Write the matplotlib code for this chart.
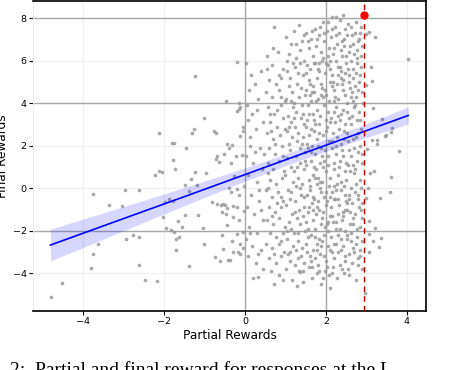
import matplotlib.pyplot as plt

# points left of x = 0 (sparse part)
left_pts = [(-3.75, -0.27), (-3.36, -0.77), (-3.03, -0.85), (-2.97, -0.09), (-2.62, -0.08),
            (-2.12, 2.6), (-2.22, 0.6), (-2.12, 0.8), (-2.05, 0.77), (-1.81, 2.14), (-1.75, 2.14),
            (-1.77, 1.33), (-1.73, 0.89), (-1.87, -0.52), (-1.98, -0.67), (-1.77, -0.6),
            (-1.46, 1.91), (-1.3, 2.61), (-1.26, 2.8), (-1.01, 3.3), (-1.47, 0.17), (-1.38, -0.14),
            (-1.34, 0.44), (-1.23, 0.78), (-1.18, 0.14), (-0.95, 0.7), (-0.76, 2.71), (-0.72, 2.61),
            (-0.72, 1.36), (-0.64, 1.22), (-0.68, 1.52), (-0.51, 1.63), (-0.43, 2.1), (-0.39, 1.91),
            (-0.35, 1.2), (-0.32, 2.03), (-0.28, 0.56), (-0.23, 1.5), (-0.2, -0.02), (-0.19, 3.62),
            (-0.14, 3.74), (-0.12, 3.8), (-0.11, 2.44), (-0.07, 1.58), (-0.04, 2.68), (-0.14, 3.99),
            (-0.19, 5.92), (-1.23, 5.29), (-0.47, 4.12),
            (-0.8, -0.65), (-0.7, -0.75), (-0.6, -0.8), (-0.5, -0.8), (-0.45, -0.95), (-0.3, -0.85),
            (-0.2, -0.9), (-0.4, 0.0), (-0.35, -0.2), (-0.15, -0.3),
            (-2.02, -1.35), (-1.95, -1.86), (-1.83, -1.94), (-1.75, -2.08), (-1.65, -1.52),
            (-1.55, -1.83), (-1.47, -1.24), (-1.63, -2.28), (-1.69, -2.39), (-1.69, -2.91),
            (-1.39, -3.66), (-1.16, -1.28), (-1.04, -1.85), (-1.01, -2.6), (-0.55, -0.72),
            (-0.56, -1.13), (-0.46, -1.2), (-0.29, -1.33), (-0.14, -1.5), (-0.02, -1.06),
            (-0.44, -1.71), (-0.57, -2.22), (-0.19, -2.16), (-0.04, -2.08), (-0.31, -2.5),
            (-0.12, -2.64), (-0.04, -2.8), (-0.17, -2.99), (-0.11, -3.07), (-0.29, -3.02),
            (-0.55, -2.85), (-0.75, -3.24), (-0.62, -3.4), (-0.41, -3.38), (-0.37, -3.38),
            (-2.93, -2.39), (-2.75, -2.22), (-2.61, -2.3), (-3.62, -2.63), (-3.75, -3.11),
            (-3.79, -3.76), (-2.61, -3.63), (-2.47, -4.29), (-2.17, -4.37), (-4.51, -4.47),
            (-4.78, -5.13)]

# main cloud between x = 0 and the dashed line
cloud_pts = [
    (0.02, 5.9), (0.1, 4.6), (0.25, 4.9), (0.4, 5.5), (0.05, 3.9), (0.18, 3.5), (0.33, 4.2),
    (0.45, 3.1), (-0.05, 2.9), (0.12, 2.4), (0.28, 2.8), (0.38, 1.9), (0.03, 1.5), (0.2, 1.2),
    (0.47, 1.6), (0.08, 0.6), (0.3, 0.3), (0.42, 0.9), (-0.02, 0.1), (0.15, -0.3), (0.35, -0.6),
    (0.05, -0.9), (0.22, -1.2), (0.44, -1.5), (0.1, -1.8), (0.3, -2.1), (0.02, -2.4), (0.18, -2.7),
    (0.4, -2.9), (0.08, -3.2), (0.27, -3.5), (0.45, -3.8), (0.2, -4.2), (0.35, -0.1), (0.13, 2.0),
    (0.33, -4.16),
    (0.73, 7.56), (0.55, 6.2), (0.68, 5.8), (0.82, 6.4), (0.95, 5.6), (0.6, 5.1), (0.77, 4.9),
    (0.9, 5.2), (0.52, 4.5), (0.66, 4.3), (0.85, 4.6), (0.98, 4.1), (0.58, 3.8), (0.72, 3.5),
    (0.88, 3.9), (0.62, 3.1), (0.79, 2.9), (0.93, 3.3), (0.54, 2.6), (0.7, 2.3), (0.86, 2.5),
    (0.99, 2.8), (0.6, 1.9), (0.75, 1.6), (0.91, 2.0), (0.56, 1.2), (0.69, 0.9), (0.84, 1.3),
    (0.97, 0.8), (0.63, 0.4), (0.78, 0.2), (0.92, 0.5), (0.53, -0.1), (0.67, -0.4), (0.81, -0.2),
    (0.95, -0.6), (0.59, -0.9), (0.74, -1.1), (0.89, -0.9), (0.55, -1.5), (0.7, -1.7),
    (0.84, -1.4), (0.98, -1.8), (0.62, -2.1), (0.77, -2.3), (0.93, -2.1), (0.52, -2.6),
    (0.68, -2.8), (0.83, -2.6), (0.97, -3.0), (0.6, -3.3), (0.76, -3.5), (0.9, -3.2),
    (0.65, -3.9), (0.85, -4.1), (0.72, -4.5), (0.57, 0.7), (0.88, -0.4), (0.64, 2.7),
    (0.8, 3.7), (0.94, 1.5),
    (1.02, 7.1), (1.08, 6.3), (1.04, 5.5), (1.09, 4.8), (1.01, 4.2), (1.06, 3.4), (1.03, 2.7),
    (1.1, 2.1), (1.05, 1.4), (1.0, 0.6), (1.07, -0.1), (1.02, -0.8), (1.09, -1.6), (1.04, -2.4),
    (1.06, -3.1), (1.01, -3.8),
    (1.14, 6.8), (1.18, 5.9), (1.12, 5.2), (1.16, 4.5), (1.19, 3.8), (1.13, 3.1), (1.17, 2.4),
    (1.11, 1.8), (1.15, 1.0), (1.19, 0.3), (1.12, -0.5), (1.16, -1.2), (1.14, -1.9),
    (1.18, -2.7), (1.11, -3.4), (1.17, -4.3),
    (1.22, 7.4), (1.27, 6.1), (1.24, 5.7), (1.29, 4.9), (1.21, 4.0), (1.26, 3.6), (1.23, 2.9),
    (1.28, 2.2), (1.25, 1.5), (1.21, 0.8), (1.27, 0.1), (1.24, -0.6), (1.29, -1.4),
    (1.22, -2.1), (1.26, -2.9), (1.23, -3.6), (1.28, -4.6),
    (1.33, 7.68), (1.36, 6.5), (1.31, 5.4), (1.38, 4.7), (1.34, 4.3), (1.39, 3.3), (1.32, 2.6),
    (1.37, 1.9), (1.35, 1.2), (1.3, 0.5), (1.38, -0.3), (1.33, -1.0), (1.36, -1.7),
    (1.31, -2.5), (1.39, -3.2), (1.34, -3.9), (1.36, -3.93),
    (1.42, 6.9), (1.47, 6.0), (1.44, 5.3), (1.49, 4.4), (1.41, 3.9), (1.46, 3.0), (1.43, 2.4),
    (1.48, 1.7), (1.45, 0.9), (1.41, 0.2), (1.47, -0.4), (1.44, -1.3), (1.49, -2.0),
    (1.42, -2.8), (1.46, -3.5), (1.43, -4.4),
    (1.52, 7.3), (1.57, 6.6), (1.54, 5.8), (1.59, 5.1), (1.51, 4.6), (1.56, 3.9), (1.53, 3.2),
    (1.58, 2.5), (1.55, 1.9), (1.5, 1.1), (1.57, 0.4), (1.53, -0.3), (1.59, -0.9),
    (1.52, -1.6), (1.56, -2.3), (1.54, -3.0), (1.58, -3.7), (1.51, 2.9), (1.55, -1.1),
    (1.63, 7.0), (1.67, 6.2), (1.61, 5.6), (1.68, 4.8), (1.64, 4.1), (1.69, 3.5), (1.62, 2.8),
    (1.66, 2.0), (1.63, 1.3), (1.69, 0.6), (1.61, -0.1), (1.65, -0.7), (1.68, -1.5),
    (1.62, -2.2), (1.67, -2.9), (1.64, -3.4), (1.66, -4.2), (1.6, 4.4), (1.69, -0.4),
    (1.72, 7.5), (1.76, 6.7), (1.73, 5.9), (1.78, 5.2), (1.71, 4.5), (1.77, 3.7), (1.74, 3.0),
    (1.79, 2.3), (1.72, 1.6), (1.75, 0.9), (1.78, 0.2), (1.71, -0.5), (1.76, -1.2),
    (1.73, -1.9), (1.79, -2.6), (1.74, -3.3), (1.77, -4.0), (1.7, 2.7), (1.78, -0.9),
    (1.82, 7.2), (1.87, 6.4), (1.84, 5.5), (1.89, 4.9), (1.81, 4.2), (1.86, 3.4), (1.83, 2.6),
    (1.88, 1.9), (1.85, 1.2), (1.8, 0.5), (1.87, -0.2), (1.82, -1.0), (1.88, -1.7),
    (1.84, -2.4), (1.86, -3.1), (1.81, -3.6), (1.89, -4.5), (1.83, 5.9), (1.85, 0.0),
    (1.92, 7.8), (1.96, 6.9), (1.93, 6.1), (1.98, 5.4), (1.91, 4.7), (1.95, 3.9), (1.99, 3.2),
    (1.92, 2.5), (1.97, 1.8), (1.94, 1.0), (1.9, 0.3), (1.96, -0.4), (1.93, -1.1),
    (1.98, -1.8), (1.91, -2.5), (1.95, -3.2), (1.97, -3.9), (1.94, 4.3), (1.99, -0.8),
    (2.02, 7.4), (2.07, 6.6), (2.04, 5.8), (2.09, 5.0), (2.01, 4.4), (2.06, 3.6), (2.03, 2.9),
    (2.08, 2.2), (2.05, 1.5), (2.0, 0.8), (2.07, 0.1), (2.03, -0.6), (2.09, -1.3),
    (2.04, -2.0), (2.06, -2.7), (2.01, -3.4), (2.08, -4.1), (2.05, 6.2), (2.02, -1.7),
    (2.16, 8.04), (2.13, 7.1), (2.18, 6.3), (2.11, 5.6), (2.15, 4.8), (2.19, 4.1), (2.12, 3.3),
    (2.17, 2.6), (2.14, 1.9), (2.19, 1.2), (2.11, 0.5), (2.16, -0.2), (2.13, -0.9),
    (2.18, -1.6), (2.12, -2.3), (2.15, -3.0), (2.17, -3.7), (2.1, -4.7), (2.14, 5.3),
    (2.19, -0.5),
    (2.26, 8.07), (2.22, 7.6), (2.27, 6.8), (2.24, 6.0), (2.29, 5.3), (2.21, 4.6), (2.26, 3.8),
    (2.23, 3.1), (2.28, 2.4), (2.25, 1.6), (2.2, 0.9), (2.27, 0.2), (2.22, -0.5), (2.29, -1.2),
    (2.24, -1.9), (2.26, -2.6), (2.21, -3.3), (2.28, -4.2), (2.23, 4.3), (2.25, -0.1),
    (2.32, 7.3), (2.37, 6.5), (2.34, 5.7), (2.39, 4.9), (2.31, 4.2), (2.36, 3.5), (2.33, 2.8),
    (2.38, 2.1), (2.35, 1.3), (2.3, 0.6), (2.37, -0.1), (2.33, -0.8), (2.39, -1.5),
    (2.31, -2.2), (2.36, -2.9), (2.34, -3.6), (2.38, 5.2), (2.32, 1.0), (2.35, -1.9),
    (2.43, 8.14), (2.47, 7.5), (2.44, 6.7), (2.49, 5.9), (2.41, 5.1), (2.46, 4.4), (2.43, 3.7),
    (2.48, 3.0), (2.45, 2.3), (2.41, 1.5), (2.47, 0.8), (2.44, 0.1), (2.49, -0.6),
    (2.42, -1.3), (2.46, -2.0), (2.43, -2.7), (2.48, -3.4), (2.45, -4.0), (2.4, 6.2),
    (2.47, -1.0),
    (2.52, 7.2), (2.57, 6.4), (2.54, 5.6), (2.59, 4.7), (2.51, 4.0), (2.56, 3.3), (2.53, 2.6),
    (2.58, 1.8), (2.55, 1.1), (2.5, 0.4), (2.57, -0.3), (2.53, -1.0), (2.59, -1.7),
    (2.52, -2.4), (2.56, -3.1), (2.54, -3.8), (2.58, 5.3), (2.51, -0.7),
    (2.63, 7.6), (2.67, 6.8), (2.61, 6.0), (2.68, 5.2), (2.64, 4.5), (2.69, 3.8), (2.62, 3.0),
    (2.66, 2.3), (2.63, 1.5), (2.69, 0.7), (2.61, 0.0), (2.65, -0.7), (2.68, -1.4),
    (2.62, -2.1), (2.67, -2.8), (2.64, -3.5), (2.66, 4.1), (2.6, -1.1),
    (2.72, 7.3), (2.76, 6.5), (2.73, 5.4), (2.78, 4.6), (2.71, 3.9), (2.77, 3.2), (2.74, 2.4),
    (2.79, 1.7), (2.72, 0.9), (2.75, 0.2), (2.78, -0.5), (2.71, -1.2), (2.76, -1.9),
    (2.73, -2.6), (2.79, -3.3), (2.74, -4.3), (2.77, 5.9),
    (2.82, 7.0), (2.87, 6.2), (2.84, 5.3), (2.89, 4.5), (2.81, 3.6), (2.86, 2.8), (2.83, 2.0),
    (2.88, 1.2), (2.85, 0.4), (2.8, -0.3), (2.87, -1.0), (2.83, -1.8), (2.89, -2.5),
    (2.84, -3.2), (2.86, 7.6), (2.88, -0.7)]

# more of the dense cloud, read between the rows above
cloud_extra = [
    (1.05, 6.0), (1.13, 4.1), (1.09, 2.9), (1.15, -0.2), (1.03, -2.0), (1.12, -3.0),
    (1.25, 6.8), (1.2, 3.3), (1.28, 1.0), (1.23, -1.1), (1.3, -3.3),
    (1.35, 5.9), (1.4, 2.1), (1.37, 0.0), (1.32, -2.1),
    (1.45, 7.2), (1.5, 5.4), (1.43, 3.5), (1.48, 1.3), (1.46, -0.9), (1.5, -2.6), (1.44, -3.9),
    (1.55, 6.9), (1.6, 4.9), (1.57, 3.5), (1.53, 2.1), (1.61, 0.1), (1.56, -1.9), (1.6, -3.2),
    (1.65, 7.4), (1.7, 5.9), (1.66, 4.5), (1.71, 3.2), (1.63, 1.7), (1.7, 1.0), (1.67, -1.0),
    (1.72, -2.3), (1.65, -3.7),
    (1.77, 7.0), (1.8, 5.6), (1.76, 4.1), (1.81, 2.0), (1.74, 0.5), (1.8, -0.6), (1.77, -2.9),
    (1.82, -3.9),
    (1.86, 7.6), (1.9, 6.0), (1.88, 4.4), (1.84, 3.0), (1.91, 1.5), (1.86, 0.3), (1.9, -1.4),
    (1.87, -2.7), (1.93, -4.2),
    (1.96, 7.3), (2.0, 5.9), (1.97, 4.6), (2.01, 2.7), (1.95, 1.3), (2.0, -0.2), (1.96, -2.2),
    (2.02, -3.7),
    (2.06, 7.8), (2.1, 6.0), (2.07, 4.1), (2.11, 3.1), (2.05, 1.1), (2.1, -0.4), (2.06, -1.6),
    (2.11, -2.9),
    (2.15, 7.5), (2.2, 6.6), (2.17, 5.0), (2.21, 3.6), (2.14, 2.2), (2.2, 0.1), (2.16, -1.3),
    (2.21, -2.6), (2.16, -4.0),
    (2.25, 7.2), (2.3, 5.7), (2.27, 4.9), (2.31, 3.4), (2.24, 2.0), (2.3, -0.5), (2.26, -1.6),
    (2.31, -3.0),
    (2.35, 7.9), (2.4, 6.9), (2.37, 5.5), (2.41, 4.6), (2.34, 3.2), (2.4, 1.8), (2.36, 0.3),
    (2.41, -1.1), (2.37, -2.4), (2.4, -3.8),
    (2.45, 7.0), (2.5, 6.2), (2.47, 5.4), (2.51, 3.6), (2.44, 2.7), (2.5, 1.2), (2.46, -0.3),
    (2.51, -2.2), (2.47, -3.2),
    (2.55, 7.7), (2.6, 6.7), (2.57, 5.0), (2.61, 4.3), (2.54, 2.2), (2.6, 0.8), (2.56, -0.5),
    (2.61, -2.5), (2.57, -4.1),
    (2.65, 7.2), (2.7, 6.3), (2.67, 5.6), (2.71, 4.8), (2.64, 3.4), (2.7, 1.9), (2.66, 1.1),
    (2.71, -0.2), (2.67, -1.7), (2.7, -3.0),
    (2.75, 7.8), (2.8, 6.9), (2.77, 6.1), (2.81, 5.0), (2.74, 4.3), (2.8, 2.6), (2.76, 1.3),
    (2.81, -0.9), (2.77, -2.3), (2.8, -3.6),
    (2.85, 7.3), (2.9, 6.7), (2.87, 5.7), (2.91, 4.0), (2.84, 3.2), (2.9, 1.6), (2.86, 0.0),
    (2.9, -1.4), (2.85, -2.9), (2.9, -3.8),
    (0.55, 5.6), (0.7, 6.6), (0.83, 5.3), (0.62, 3.5), (0.9, 4.3), (0.75, 2.1), (0.58, 0.0),
    (0.8, -0.7), (0.66, -1.3), (0.9, -2.5), (0.71, -3.1), (0.95, -4.3),
    (0.15, 5.3), (0.3, 3.7), (0.07, 3.2), (0.24, 1.7), (0.4, -1.0), (0.12, -2.1), (0.33, -3.1)]

# points right of the dashed line
right_pts = [(3.07, 7.34), (3.2, 7.1), (2.99, 7.26), (3.11, 5.7), (3.14, 5.02), (2.98, 4.87),
             (3.17, 3.77), (3.39, 3.27), (3.62, 2.83), (3.48, 2.49), (3.26, 2.29), (3.81, 1.75),
             (3.01, 1.85), (3.19, 0.81), (3.09, 0.72), (3.6, 0.53), (3.04, 0.03), (3.59, -0.17),
             (2.99, -0.44), (3.34, -0.47), (3.07, -1.53), (3.21, -1.88), (3.07, -2.13),
             (3.35, -2.36), (3.15, -2.47), (3.31, -2.75), (3.07, -3.0), (2.96, -4.94),
             (3.25, 2.07), (3.13, 2.29), (3.46, 2.44), (3.61, 2.64), (4.03, 6.09)]

# highlighted point
best_x = 2.93
best_y = 8.15

# fitted line with confidence band
fit_x = [-4.8, -3.0, -1.5, 0.0, 1.4, 2.9, 4.03]
fit_mid = [-2.67, -1.43, -0.4, 0.64, 1.61, 2.64, 3.42]
fit_lo = [-3.42, -2.0, -0.82, 0.33, 1.34, 2.32, 3.02]
fit_hi = [-1.92, -0.87, 0.03, 0.95, 1.88, 2.96, 3.82]

ref_x = [0, 2]
ref_y = [8, 4, -2]
x_ticks = [-4, -2, 0, 2, 4]
y_ticks = [-4, -2, 0, 2, 4, 6, 8]

all_pts = left_pts + cloud_pts + cloud_extra + right_pts
px = [p[0] for p in all_pts]
py = [p[1] for p in all_pts]

fig = plt.figure(figsize=(4.62, 3.70), dpi=100)
ax = fig.add_axes([33 / 462, 1 - 311 / 370, 393 / 462, 310 / 370])

ax.set_xlim(-5.23, 4.47)
ax.set_ylim(-5.77, 8.8)
ax.set_xticks(x_ticks)
ax.set_yticks(y_ticks)
ax.grid(True, color='#f0f0f0', linewidth=1)
ax.set_axisbelow(True)

for v in ref_x:
    ax.axvline(v, color='#a8a8a8', linewidth=1, zorder=1)
for v in ref_y:
    ax.axhline(v, color='#a8a8a8', linewidth=1, zorder=1)

ax.scatter(px, py, s=7, color='#9a9a9a', alpha=0.85, linewidths=0, zorder=2)

ax.fill_between(fit_x, fit_lo, fit_hi, color='#0000ff', alpha=0.16, linewidth=0, zorder=3)
ax.plot(fit_x, fit_mid, color='blue', linewidth=1.2, zorder=4)

ax.axvline(best_x, color='#d40000', linestyle=(0, (4, 3)), linewidth=1, zorder=4)
ax.plot([best_x], [best_y], 'o', color='red', markersize=5, zorder=5)

ax.set_xlabel("Partial Rewards", fontsize=8.7, labelpad=2)
ax.set_ylabel("Final Rewards", fontsize=8.7)
ax.yaxis.set_label_coords(-0.062, 0.5)
ax.tick_params(axis='both', labelsize=6.8, length=3, width=0.8, pad=1.5)

for s in ['top', 'right', 'bottom']:
    ax.spines[s].set_color('black')
    ax.spines[s].set_linewidth(1.2)
ax.spines['left'].set_color('#eeeeee')

fig.text(10 / 462, 1 - 361 / 370, "2:  Partial and final reward for responses at the L",
         fontsize=14, family='Liberation Serif', va='top', ha='left')

plt.savefig('out.png', dpi=100)
